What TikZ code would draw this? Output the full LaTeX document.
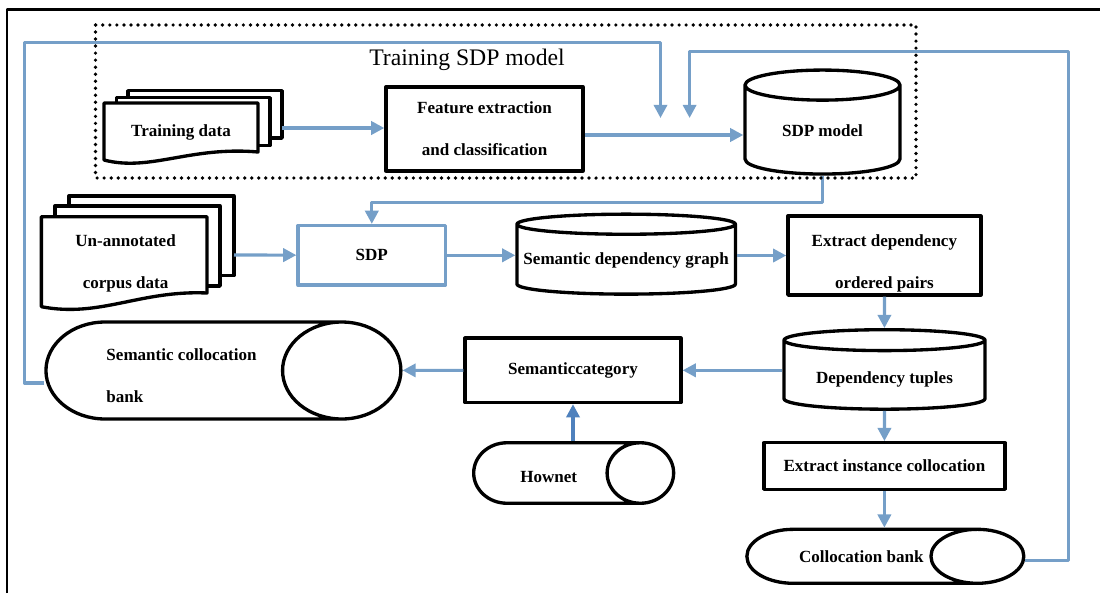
\documentclass[tikz,border=0pt]{standalone}
\usepackage{fontspec}
\setmainfont{Liberation Serif}
\usetikzlibrary{arrows.meta,shapes.geometric,positioning}
\definecolor{flowblue}{RGB}{117,159,200}
\definecolor{howblue}{RGB}{79,129,189}
\newcommand{\lblfont}{\fontsize{9.7}{23.9}\selectfont\bfseries}
\begin{document}
\begin{tikzpicture}[x=0.02cm, y=-0.02cm, line join=round,
		>={Triangle[length=7.5pt,width=7.5pt]},
		box/.style={draw, line width=1.9pt, fill=white, font=\lblfont, align=center, inner sep=0pt},
		sheet/.style={draw, line width=1.9pt, fill=white},
		dbase/.style={cylinder, shape border rotate=90, draw, line width=1.9pt, fill=white, inner sep=0pt},
		roll/.style={cylinder, draw, line width=1.9pt, fill=white, inner sep=0pt},
		txt/.style={font=\lblfont, align=center},
		flow/.style={->, draw=flowblue, line width=1.8pt}]
	\useasboundingbox (0,0) rectangle (1100,593);
	\draw[line width=1.3pt] (7,593) -- (7,9.5) -- (1100,9.5);
	%\draw[color=gray!50,dashed] (0,0) grid[step=50] (1100,593);
	\node[font=\fontsize{13.5}{16}\selectfont] (ttl) at (467,60) {Training SDP model};
	% training data
	\draw[sheet] (128,90.7) rectangle (282,138);
	\draw[sheet] (116.5,97.7) rectangle (270,145.7);
	\draw[sheet] (104,103) -- (258,103) -- (258,152) .. controls (190,146) and (150,172) .. (104,160) -- cycle;
	\node[txt] (td) at (181,132) {Training data};
	\coordinate (td-out) at (282,128);
	\node[box, minimum width=3.94cm, minimum height=1.68cm] (feat) at (484.5,129) {Feature extraction\\and classification};
	\node[dbase, minimum height=2.08cm, aspect=0.194,
		label={[txt]center:SDP model}] (sdpm) at (822.5,130.4) {\rule{3.1cm}{0pt}};
	% un-annotated corpus
	\draw[sheet] (69,196) rectangle (234,275.7);
	\draw[sheet] (55,206) rectangle (220,286);
	\draw[sheet] (41.4,216.7) -- (207,216.7) -- (207,293) .. controls (140,290) and (100,318) .. (41.4,306.7) -- cycle;
	\node[txt] (ua) at (125.6,263) {Un-annotated\\corpus data};
	\coordinate (ua-out) at (234,255);
	\node[box, draw=flowblue, minimum width=2.95cm, minimum height=1.19cm] (sdp) at (371.8,255.3) {SDP};
	\node[dbase, minimum height=1.6cm, aspect=0.092,
		label={[txt]center:Semantic dependency graph}] (sgraph) at (626.2,260) {\rule{4.37cm}{0pt}};
	\node[box, minimum width=3.86cm, minimum height=1.58cm,
		label={[txt, yshift=-0.16cm]center:Extract dependency\\ordered pairs}] (xdep) at (884.4,255.5) {};
	\node[dbase, minimum height=1.59cm, aspect=0.104,
		label={[txt, yshift=-0.07cm]center:Dependency tuples}] (dtup) at (884.5,375.5) {\rule{4.02cm}{0pt}};
	\node[box, minimum width=4.32cm, minimum height=1.29cm] (scat) at (573,370.3) {Semanticcategory};
	\node[roll, minimum height=7.1cm, aspect=1.22,
		label={[txt, align=left, xshift=-0.23cm, yshift=-0.11cm]center:Semantic collocation\\bank}] (scb) at (193,370.5) {\rule{0pt}{1.94cm}};
	\node[roll, minimum height=4cm, aspect=1.1,
		label={[txt, xshift=-0.15cm, yshift=-0.07cm]center:Hownet}] (hown) at (556.2,473) {\rule{0pt}{1.21cm}};
	\node[box, minimum width=4.82cm, minimum height=0.93cm] (xinst) at (884.4,466) {Extract instance collocation};
	\node[roll, minimum height=5.54cm, aspect=1.72,
		label={[txt]center:Collocation bank}] (cb) at (861.3,556.3) {\rule{0pt}{1.08cm}};
	\coordinate (fb1) at (660.5,118);
	\coordinate (fb2) at (689.6,118);
	% connectors
	\draw[flow] (td-out) -- (td-out -| feat.west);
	\draw[flow] ([yshift=-0.12cm]feat.east) -- ([yshift=-0.12cm]feat.east -| sdpm.west);
	\draw[flow] (sdpm.south) -- ++(0,26.7) -| (sdp.north);
	\draw[flow] (ua-out) -- (sdp);
	\draw[flow] (sdp) -- (sdp -| sgraph.west);
	\draw[flow] (sgraph.east |- xdep) -- (xdep);
	\draw[flow] (xdep) -- (dtup);
	\draw[flow] (scat.east -| dtup.west) -- (scat.east);
	\draw[flow] (scat) -- (scb);
	\draw[flow, draw=howblue] (scat.south |- hown.north) -- (scat.south);
	\draw[flow] (dtup) -- (xinst);
	\draw[flow] (xinst) -- (xinst |- cb.north);
	\draw[flow] ([yshift=-0.25cm]scb.west) -| (24.5,42.3) -| (fb1);
	\draw[flow] ([yshift=-0.09cm]cb.east) -| (1068.6,51.7) -| (fb2);
	\draw[line width=2.1pt, line cap=round, dash pattern=on 0pt off 4pt] (95.5,25) rectangle (916,178);
\end{tikzpicture}
\end{document}
